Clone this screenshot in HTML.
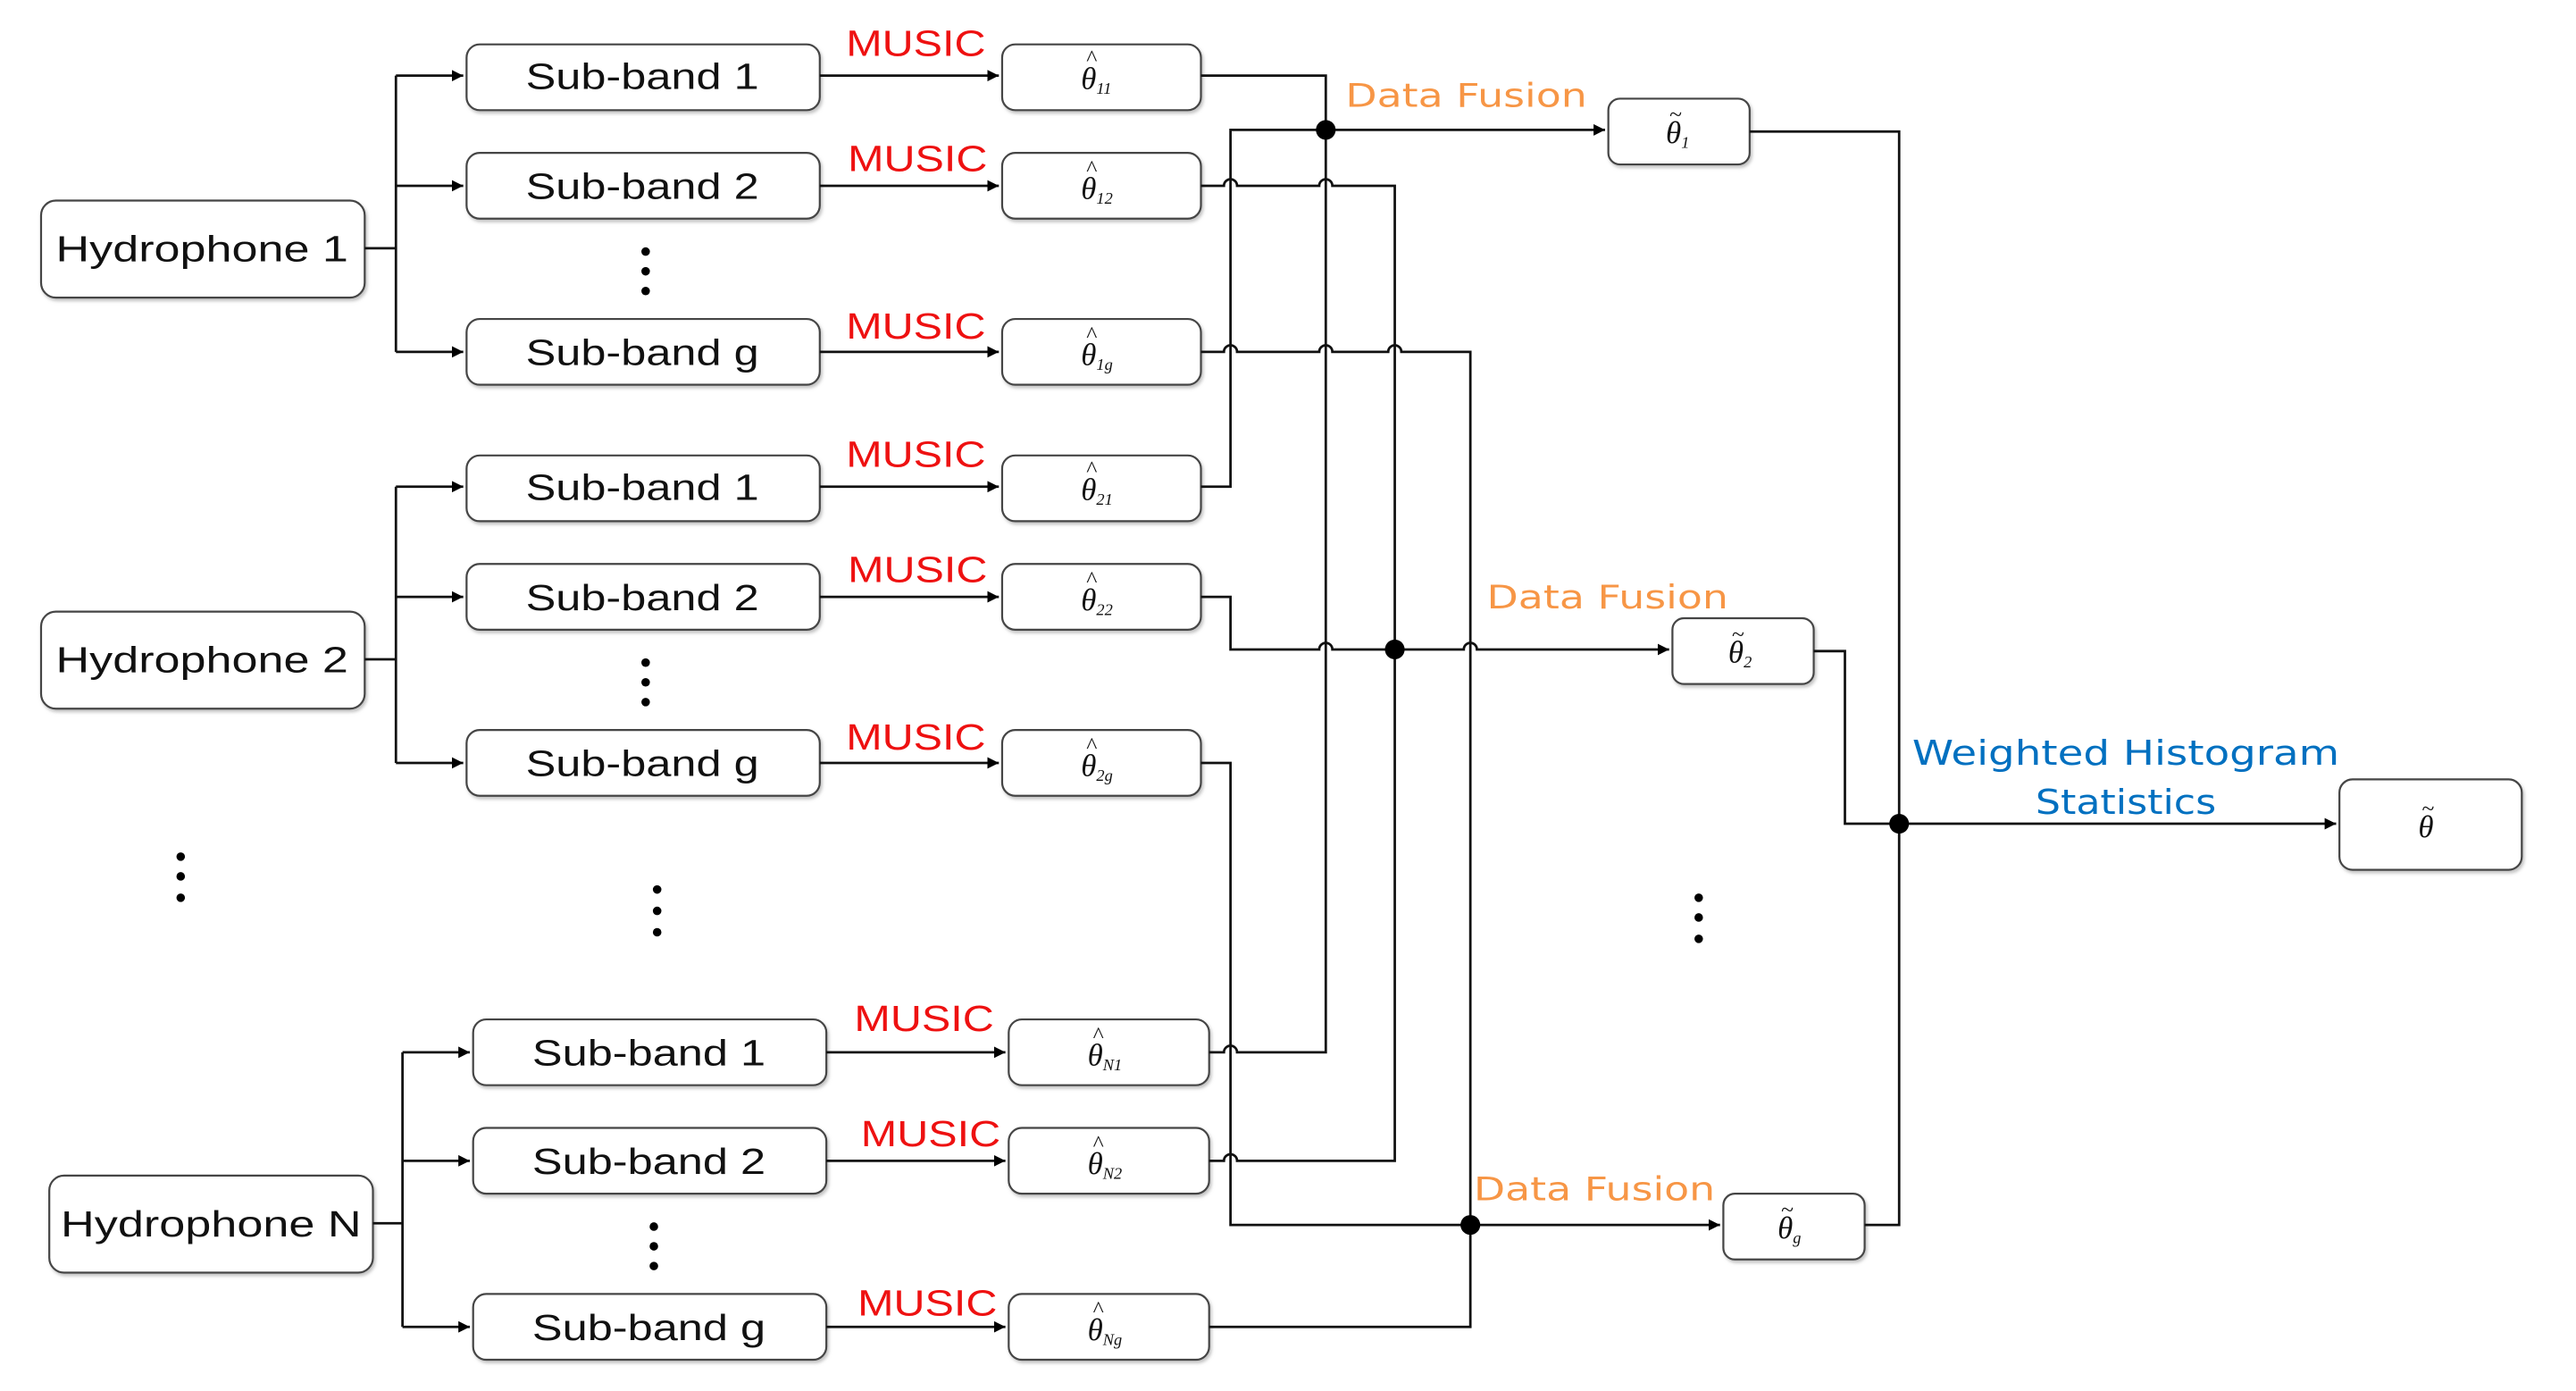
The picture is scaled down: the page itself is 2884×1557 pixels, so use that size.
<!DOCTYPE html>
<html><head><meta charset="utf-8"><style>html,body{margin:0;padding:0;background:#fff}svg{display:block}</style></head><body>
<svg width="2884" height="1557" viewBox="0 0 1568 846" preserveAspectRatio="none" xmlns="http://www.w3.org/2000/svg">
<defs>
<marker id="a" viewBox="0 0 10 10" refX="10" refY="5" markerWidth="7" markerHeight="7" markerUnits="userSpaceOnUse" orient="auto"><path d="M0,0 L10,5 L0,10 z" fill="#000"/></marker>
<filter id="sh"><feDropShadow dx="1" dy="1.5" stdDeviation="1" flood-color="#999" flood-opacity="0.6"/></filter>
</defs>
<g fill="#fff" stroke="#444" stroke-width="1.2" filter="url(#sh)">
<rect x="25" y="122" width="197" height="59" rx="9"/>
<rect x="25" y="372" width="197" height="59" rx="9"/>
<rect x="30" y="715" width="197" height="59" rx="9"/>
<rect x="284" y="27" width="215" height="40" rx="8"/>
<rect x="284" y="93" width="215" height="40" rx="8"/>
<rect x="284" y="194" width="215" height="40" rx="8"/>
<rect x="284" y="277" width="215" height="40" rx="8"/>
<rect x="284" y="343" width="215" height="40" rx="8"/>
<rect x="284" y="444" width="215" height="40" rx="8"/>
<rect x="288" y="620" width="215" height="40" rx="8"/>
<rect x="288" y="686" width="215" height="40" rx="8"/>
<rect x="288" y="787" width="215" height="40" rx="8"/>
<rect x="610" y="27" width="121" height="40" rx="8"/>
<rect x="610" y="93" width="121" height="40" rx="8"/>
<rect x="610" y="194" width="121" height="40" rx="8"/>
<rect x="610" y="277" width="121" height="40" rx="8"/>
<rect x="610" y="343" width="121" height="40" rx="8"/>
<rect x="610" y="444" width="121" height="40" rx="8"/>
<rect x="614" y="620" width="122" height="40" rx="8"/>
<rect x="614" y="686" width="122" height="40" rx="8"/>
<rect x="614" y="787" width="122" height="40" rx="8"/>
<rect x="979" y="60" width="86" height="40" rx="7"/>
<rect x="1018" y="376" width="86" height="40" rx="7"/>
<rect x="1049" y="726" width="86" height="40" rx="7"/>
<rect x="1424" y="474" width="111" height="55" rx="8"/>
</g>
<g fill="none" stroke="#111" stroke-width="1.5">
<path d="M222,151 H241 M241,46 V214"/>
<path d="M241,46 H282" marker-end="url(#a)"/><path d="M241,113 H282" marker-end="url(#a)"/><path d="M241,214 H282" marker-end="url(#a)"/>
<path d="M222,401 H241 M241,296 V464"/>
<path d="M241,296 H282" marker-end="url(#a)"/><path d="M241,363 H282" marker-end="url(#a)"/><path d="M241,464 H282" marker-end="url(#a)"/>
<path d="M227,744 H245 M245,640 V807"/>
<path d="M245,640 H286" marker-end="url(#a)"/><path d="M245,706 H286" marker-end="url(#a)"/><path d="M245,807 H286" marker-end="url(#a)"/>
<path d="M499,46 H608" marker-end="url(#a)"/><path d="M499,113 H608" marker-end="url(#a)"/><path d="M499,214 H608" marker-end="url(#a)"/>
<path d="M499,296 H608" marker-end="url(#a)"/><path d="M499,363 H608" marker-end="url(#a)"/><path d="M499,464 H608" marker-end="url(#a)"/>
<path d="M503,640 H612" marker-end="url(#a)"/><path d="M503,706 H612" marker-end="url(#a)"/><path d="M503,807 H612" marker-end="url(#a)"/>
<path d="M736,640 H745 a4,4 0 0 1 8,0 H807 V46 H731"/>
<path d="M736,706 H745 a4,4 0 0 1 8,0 H849 V113 H811 a4,4 0 0 0 -8,0 H753 a4,4 0 0 0 -8,0 H731"/>
<path d="M736,807 H895 V214 H853 a4,4 0 0 0 -8,0 H811 a4,4 0 0 0 -8,0 H753 a4,4 0 0 0 -8,0 H731"/>
<path d="M731,296 H749 V79 H977" marker-end="url(#a)"/>
<path d="M731,363 H749 V395 H803 a4,4 0 0 1 8,0 H891 a4,4 0 0 1 8,0 H1016" marker-end="url(#a)"/>
<path d="M731,464 H749 V745 H1047" marker-end="url(#a)"/>
<path d="M1065,80 H1156 V745 H1135"/>
<path d="M1104,396 H1123 V501 H1422" marker-end="url(#a)"/>
</g>
<g fill="#000">
<circle cx="807" cy="79" r="6"/><circle cx="849" cy="395" r="6"/><circle cx="895" cy="745" r="6"/><circle cx="1156" cy="501" r="6"/>
<circle cx="393" cy="153" r="2.6"/><circle cx="393" cy="165" r="2.6"/><circle cx="393" cy="177" r="2.6"/>
<circle cx="393" cy="403" r="2.6"/><circle cx="393" cy="415" r="2.6"/><circle cx="393" cy="427" r="2.6"/>
<circle cx="398" cy="746" r="2.6"/><circle cx="398" cy="758" r="2.6"/><circle cx="398" cy="770" r="2.6"/>
<circle cx="110" cy="521" r="2.6"/><circle cx="110" cy="533" r="2.6"/><circle cx="110" cy="546" r="2.6"/>
<circle cx="400" cy="541" r="2.6"/><circle cx="400" cy="554" r="2.6"/><circle cx="400" cy="567" r="2.6"/>
<circle cx="1034" cy="546" r="2.6"/><circle cx="1034" cy="558" r="2.6"/><circle cx="1034" cy="571" r="2.6"/>
</g>
<g font-family="Liberation Sans, sans-serif" font-size="22" fill="#111">
<text x="34" y="159" textLength="178" lengthAdjust="spacingAndGlyphs">Hydrophone 1</text>
<text x="34" y="409" textLength="178" lengthAdjust="spacingAndGlyphs">Hydrophone 2</text>
<text x="37" y="752" textLength="183" lengthAdjust="spacingAndGlyphs">Hydrophone N</text>
<text x="320" y="54" textLength="142" lengthAdjust="spacingAndGlyphs">Sub-band 1</text>
<text x="320" y="121" textLength="142" lengthAdjust="spacingAndGlyphs">Sub-band 2</text>
<text x="320" y="222" textLength="142" lengthAdjust="spacingAndGlyphs">Sub-band g</text>
<text x="320" y="304" textLength="142" lengthAdjust="spacingAndGlyphs">Sub-band 1</text>
<text x="320" y="371" textLength="142" lengthAdjust="spacingAndGlyphs">Sub-band 2</text>
<text x="320" y="472" textLength="142" lengthAdjust="spacingAndGlyphs">Sub-band g</text>
<text x="324" y="648" textLength="142" lengthAdjust="spacingAndGlyphs">Sub-band 1</text>
<text x="324" y="714" textLength="142" lengthAdjust="spacingAndGlyphs">Sub-band 2</text>
<text x="324" y="815" textLength="142" lengthAdjust="spacingAndGlyphs">Sub-band g</text>
</g>
<g font-family="Liberation Sans, sans-serif" font-size="22" fill="#ee1111">
<text x="515" y="34" textLength="85" lengthAdjust="spacingAndGlyphs">MUSIC</text>
<text x="516" y="104" textLength="85" lengthAdjust="spacingAndGlyphs">MUSIC</text>
<text x="515" y="206" textLength="85" lengthAdjust="spacingAndGlyphs">MUSIC</text>
<text x="515" y="284" textLength="85" lengthAdjust="spacingAndGlyphs">MUSIC</text>
<text x="516" y="354" textLength="85" lengthAdjust="spacingAndGlyphs">MUSIC</text>
<text x="515" y="456" textLength="85" lengthAdjust="spacingAndGlyphs">MUSIC</text>
<text x="520" y="627" textLength="85" lengthAdjust="spacingAndGlyphs">MUSIC</text>
<text x="524" y="697" textLength="85" lengthAdjust="spacingAndGlyphs">MUSIC</text>
<text x="522" y="800" textLength="85" lengthAdjust="spacingAndGlyphs">MUSIC</text>
</g>
<g font-family="DejaVu Sans, sans-serif" font-size="20" fill="#f79646">
<text x="819" y="65" textLength="147" lengthAdjust="spacingAndGlyphs">Data Fusion</text>
<text x="905" y="370" textLength="147" lengthAdjust="spacingAndGlyphs">Data Fusion</text>
<text x="897" y="730" textLength="147" lengthAdjust="spacingAndGlyphs">Data Fusion</text>
</g>
<g font-family="DejaVu Sans, sans-serif" font-size="21" fill="#0070c0" text-anchor="middle">
<text x="1294" y="465" textLength="260" lengthAdjust="spacingAndGlyphs">Weighted Histogram</text>
<text x="1294" y="495" textLength="110" lengthAdjust="spacingAndGlyphs">Statistics</text>
</g>
<g font-family="Liberation Serif, serif" font-style="italic" font-size="19" fill="#111">
<text x="658" y="54">θ<tspan font-size="10" dy="3">11</tspan></text><text x="661" y="40" font-size="14">^</text>
<text x="658" y="121">θ<tspan font-size="10" dy="3">12</tspan></text><text x="661" y="107" font-size="14">^</text>
<text x="658" y="222">θ<tspan font-size="10" dy="3">1g</tspan></text><text x="661" y="208" font-size="14">^</text>
<text x="658" y="304">θ<tspan font-size="10" dy="3">21</tspan></text><text x="661" y="290" font-size="14">^</text>
<text x="658" y="371">θ<tspan font-size="10" dy="3">22</tspan></text><text x="661" y="357" font-size="14">^</text>
<text x="658" y="472">θ<tspan font-size="10" dy="3">2g</tspan></text><text x="661" y="458" font-size="14">^</text>
<text x="662" y="648">θ<tspan font-size="10" dy="3">N1</tspan></text><text x="665" y="634" font-size="14">^</text>
<text x="662" y="714">θ<tspan font-size="10" dy="3">N2</tspan></text><text x="665" y="700" font-size="14">^</text>
<text x="662" y="815">θ<tspan font-size="10" dy="3">Ng</tspan></text><text x="665" y="801" font-size="14">^</text>
<text x="1014" y="87">θ<tspan font-size="10" dy="3">1</tspan></text><text x="1016" y="74" font-size="14">~</text>
<text x="1052" y="403">θ<tspan font-size="10" dy="3">2</tspan></text><text x="1054" y="390" font-size="14">~</text>
<text x="1082" y="753">θ<tspan font-size="10" dy="3">g</tspan></text><text x="1084" y="740" font-size="14">~</text>
<text x="1472" y="509">θ</text><text x="1474" y="496" font-size="14">~</text>
</g>
</svg>
</body></html>
